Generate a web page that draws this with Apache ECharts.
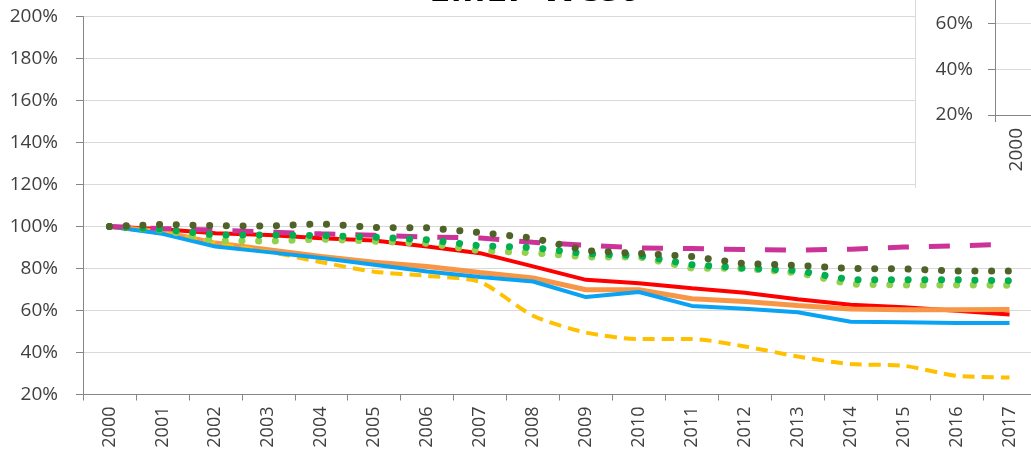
<!DOCTYPE html>
<html>
<head>
<meta charset="utf-8">
<script src="https://cdn.jsdelivr.net/npm/echarts@6/dist/echarts.min.js"></script>
<style>
  html, body { margin: 0; padding: 0; background: #fff; }
  #chart { width: 1031px; height: 451px; }
</style>
</head>
<body>
<div id="chart"></div>
<script>
// years on the category axis
const years = ['2000','2001','2002','2003','2004','2005','2006','2007','2008',
  '2009','2010','2011','2012','2013','2014','2015','2016','2017'];

// index values, % of 2000
const red = [100, 98.7, 96.8, 96, 94.4, 93.3, 90.5, 87.3, 81, 74.6, 73, 70.6, 68.4, 65.4, 62.7, 61.6, 59.9, 58.1];
const orange = [100, 97.5, 92.1, 88.9, 85.7, 83, 81, 78.1, 75.5, 69.9, 69.9, 65.6, 64.3, 62.4, 60.7, 60.3, 60.3, 60.5];
const blue = [100, 96.5, 90.5, 87.8, 85, 81.8, 78.6, 75.9, 73.8, 66.4, 68.8, 62.2, 60.8, 59.2, 54.6, 54.4, 54, 54];
const yellow = [100, 97, 92, 88, 83, 78.5, 76.5, 73.6, 57.5, 49.5, 46.4, 46.4, 42.9, 38.1, 34.5, 33.7, 28.9, 28.1];
const magenta = [100, 99, 98.3, 97.3, 96.5, 95.8, 95, 94.5, 92.5, 91, 89.8, 89.5, 89, 88.8, 89.2, 90.2, 90.8, 91.5];
const lightGreen = [100, 98.4, 93.3, 93, 94, 93, 92, 88.5, 87.5, 85.5, 85.5, 80.2, 80, 78, 72.5, 72.2, 72.2, 72];
const brightGreen = [100, 98.7, 96, 96, 95.7, 94.9, 93.7, 90.8, 90, 87, 86.2, 81.8, 80.2, 79, 74.6, 74.6, 74.6, 74.2];
const olive = [100, 101, 100.4, 100.2, 101.3, 99.5, 99.4, 97.1, 94.5, 88.5, 87.2, 85.7, 82.3, 81.5, 80, 79.8, 78.8, 78.8];

const FONT = 'Open Sans';
const axisGray = '#868686';
const gridGray = '#D9D9D9';
const textGray = '#404040';

function solid(data, color, width) {
  return { type: 'line', data: data, symbol: 'none', xAxisIndex: 0, yAxisIndex: 0,
    lineStyle: { color: color, width: width }, itemStyle: { color: color } };
}
function dashed(data, color, width, dash, smooth) {
  return { type: 'line', data: data, symbol: 'none', smooth: smooth || false, xAxisIndex: 0, yAxisIndex: 0,
    lineStyle: { color: color, width: width, type: dash, cap: 'butt' }, itemStyle: { color: color } };
}
function dotted(data, color) {
  return { type: 'line', data: data, symbol: 'none', xAxisIndex: 0, yAxisIndex: 0,
    lineStyle: { color: color, width: 7, type: [0.1, 16.6], cap: 'round' }, itemStyle: { color: color } };
}

let myChart = echarts.init(document.getElementById('chart'));
myChart.setOption({
  animation: false,
  title: {
    text: 'EMEP West',
    left: 424,
    top: -34,
    textStyle: { fontFamily: FONT, fontWeight: 'bold', fontSize: 38, color: '#000' }
  },
  graphic: [
    // the other chart that overlaps in the top right corner
    { type: 'rect', z: 1, shape: { x: 915, y: -5, width: 130, height: 193 }, style: { fill: '#fff' } },
    { type: 'line', z: 1, shape: { x1: 915.5, y1: 0, x2: 915.5, y2: 188 }, style: { stroke: gridGray, lineWidth: 1 } }
  ],
  grid: [
    { left: 83, top: 16.5, width: 953, height: 378, containLabel: false, outerBoundsMode: 'none' },
    { left: 995, top: -22.5, width: 792, height: 137.5, containLabel: false, outerBoundsMode: 'none' }
  ],
  xAxis: [
    {
      type: 'category', gridIndex: 0, data: years, boundaryGap: true, z: 0,
      axisLine: { lineStyle: { color: axisGray, width: 1 } },
      axisTick: { show: true, length: 6, lineStyle: { color: axisGray } },
      axisLabel: { rotate: 90, margin: 12, interval: 0, color: textGray, fontFamily: FONT, fontSize: 18, hideOverlap: false },
      splitLine: { show: false }
    },
    {
      type: 'category', gridIndex: 1, data: years, boundaryGap: true, z: 5,
      axisLine: { lineStyle: { color: axisGray, width: 1 } },
      axisTick: { show: true, length: 7, lineStyle: { color: axisGray } },
      axisLabel: { rotate: 90, margin: 13, interval: 0, color: textGray, fontFamily: FONT, fontSize: 19, hideOverlap: false },
      splitLine: { show: false }
    }
  ],
  yAxis: [
    {
      type: 'value', gridIndex: 0, min: 20, max: 200, interval: 20, z: 0,
      axisLine: { show: true, lineStyle: { color: axisGray, width: 1 } },
      axisTick: { show: true, length: 7, lineStyle: { color: axisGray } },
      axisLabel: { formatter: '{value}%', margin: 25, color: textGray, fontFamily: FONT, fontSize: 19 },
      splitLine: { lineStyle: { color: gridGray, width: 1 } }
    },
    {
      type: 'value', gridIndex: 1, min: 20, max: 80, interval: 20, z: 5,
      axisLine: { show: true, lineStyle: { color: axisGray, width: 1 } },
      axisTick: { show: true, length: 7, lineStyle: { color: axisGray } },
      axisLabel: { formatter: '{value}%', margin: 22, color: textGray, fontFamily: FONT, fontSize: 19 },
      splitLine: { lineStyle: { color: gridGray, width: 1 } }
    }
  ],
  series: [
    solid(red, '#FF0000', 4),
    solid(orange, '#F79646', 5),
    dashed(yellow, '#FFC000', 4, [12, 7], 0.25),
    solid(blue, '#0AA2F2', 4),
    dashed(magenta, '#CC3399', 5, [21, 20]),
    dotted(lightGreen, '#92D050'),
    dotted(brightGreen, '#00B050'),
    dotted(olive, '#4F6228')
  ]
});
</script>
</body>
</html>
